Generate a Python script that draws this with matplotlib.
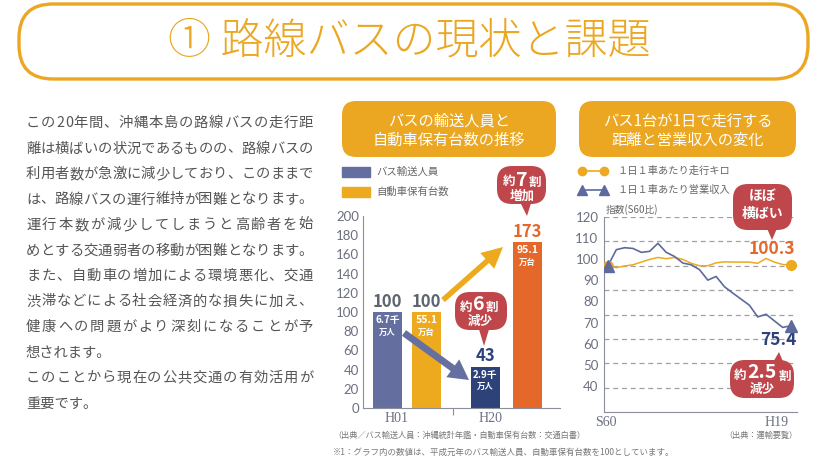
import matplotlib
matplotlib.use('Agg')
import matplotlib.pyplot as plt
from matplotlib.patches import FancyBboxPatch, Polygon, FancyArrow

plt.rcParams['font.family'] = ['Noto Sans CJK JP', 'DejaVu Sans']

W, H = 823, 458

# --- data ---------------------------------------------------------------
BAR_YEARS = ['H01', 'H20']
BUS_INDEX = [100, 43]          # バス輸送人員 (H01 = 100)
CAR_INDEX = [100, 173]         # 自動車保有台数 (H01 = 100)
BUS_ABS = ['6.7', '2.9']       # 千万人
CAR_ABS = ['55.1', '95.1']     # 万台
BAR_YTICKS = [0, 20, 40, 60, 80, 100, 120, 140, 160, 180, 200]

LINE_X_LABELS = ['S60', 'H19']
KM_INDEX = [100.0, 99.2, 99.9, 100.4, 101.5, 102.6, 103.4, 102.9, 103.4, 102.6,
            101.0, 100.0, 100.0, 101.2, 101.6, 101.5, 101.5, 101.5, 101.0, 103.0,
            101.5, 100.5, 100.3]
REV_INDEX = [100.0, 106.6, 107.4, 107.1, 105.5, 105.9, 109.2, 105.5, 103.8, 101.1,
             100.4, 98.4, 94.1, 95.6, 91.4, 88.8, 86.3, 83.8, 79.0, 80.1,
             77.4, 74.7, 75.4]
LINE_YTICKS = [120, 110, 100, 90, 80, 70, 60, 50, 40]
LINE_GRID = [50, 60, 70, 80, 90, 100, 110, 120]

PARAGRAPH = [
    'この20年間、沖縄本島の路線バスの走行距',
    '離は横ばいの状況であるものの、路線バスの',
    '利用者数が急激に減少しており、このままで',
    'は、路線バスの運行維持が困難となります。',
    '運行本数が減少してしまうと高齢者を始',
    'めとする交通弱者の移動が困難となります。',
    'また、自動車の増加による環境悪化、交通',
    '渋滞などによる社会経済的な損失に加え、',
    '健康への問題がより深刻になることが予',
    '想されます。',
    'このことから現在の公共交通の有効活用が',
    '重要です。',
]
PARA_LAST = {9, 11}

ORANGE = '#EBA722'
GRAY = '#666666'
AXGRAY = '#8a8f99'
TICK_FONT = dict(family=['Lato', 'DejaVu Sans'], fontweight='normal')

fig = plt.figure(figsize=(W / 100, H / 100), dpi=100)


def px_axes(left, top, right, bottom):
    return fig.add_axes([left / W, 1 - bottom / H, (right - left) / W, (bottom - top) / H])


# --- bar chart ----------------------------------------------------------
ax1 = px_axes(363, 216, 560, 408)
bus_x = [0.85, 4.22]
car_x = [2.19, 5.66]
ax1.bar(bus_x, BUS_INDEX, width=1.0, color=['#656F9F', '#2E427A'])
ax1.bar(car_x, CAR_INDEX, width=1.0, color=['#EDAA1E', '#E4682A'])
ax1.set_xlim(0, 6.79)
ax1.set_ylim(0, 200)
ax1.set_yticks(BAR_YTICKS)
ax1.set_yticklabels([str(v) for v in BAR_YTICKS], color='#6b7080', fontsize=9.5, **TICK_FONT)
ax1.set_xticks([3.1])
ax1.set_xticklabels([''])
ax1.set_xticks([1.17, 4.38], minor=True)
ax1.set_xticklabels(BAR_YEARS, minor=True, family='Liberation Serif', fontsize=10, color='#6b7080')
ax1.tick_params(axis='x', which='major', length=5, color=AXGRAY)
ax1.tick_params(axis='x', which='minor', length=0, pad=3)
ax1.tick_params(axis='y', length=0, pad=3)
for s in ['top', 'right']:
    ax1.spines[s].set_visible(False)
for s in ['left', 'bottom']:
    ax1.spines[s].set_color(AXGRAY)

top_colors = ['#5d6670', '#2E427A']
for i, x in enumerate(bus_x):
    v = BUS_INDEX[i]
    ax1.annotate(str(v), (x, v), xytext=(0, 1), textcoords='offset points', ha='center',
                 va='bottom', fontsize=12, fontweight='bold', color=top_colors[i])
    ax1.annotate(BUS_ABS[i] + '千', (x, v), xytext=(0, -6), textcoords='offset points',
                 ha='center', va='center', fontsize=7, fontweight='bold', color='white')
    ax1.annotate('万人', (x, v), xytext=(0, -14.5), textcoords='offset points',
                 ha='center', va='center', fontsize=6, fontweight='bold', color='white')
top_colors = ['#5d6670', '#E4682A']
for i, x in enumerate(car_x):
    v = CAR_INDEX[i]
    ax1.annotate(str(v), (x, v), xytext=(0, 1), textcoords='offset points', ha='center',
                 va='bottom', fontsize=12, fontweight='bold', color=top_colors[i])
    ax1.annotate(CAR_ABS[i], (x, v), xytext=(0, -6), textcoords='offset points',
                 ha='center', va='center', fontsize=7.5, fontweight='bold', color='white')
    ax1.annotate('万台', (x, v), xytext=(0, -15), textcoords='offset points',
                 ha='center', va='center', fontsize=6, fontweight='bold', color='white')

# --- line chart ---------------------------------------------------------
ax2 = px_axes(604, 217, 797, 412)
xs = list(range(len(KM_INDEX)))
ax2.plot(xs, KM_INDEX, color='#EDA91F', lw=1.1, zorder=3)
ax2.plot(xs, REV_INDEX, color='#5E6A9E', lw=1.2, zorder=4)
ax2.plot([xs[0], xs[-1]], [KM_INDEX[0], KM_INDEX[-1]], 'o', color='#EDA91F', ms=7, zorder=5)
ax2.plot([xs[0], xs[-1]], [REV_INDEX[0], REV_INDEX[-1]], '^', color='#5E6A9E', ms=8, zorder=6)
for g in LINE_GRID:
    ax2.axhline(g, color='#a0a0a0', lw=0.9, ls=(0, (4, 3)), zorder=1)
ax2.set_xlim(-0.48, 22.72)
ax2.set_ylim(40, 120)
# labels in the original are spaced slightly tighter than the grid
label_pos = [120 - (120 - v) * 0.866 for v in LINE_YTICKS]
ax2.set_yticks(label_pos)
ax2.set_yticklabels([str(v) for v in LINE_YTICKS], color='#6b7080', fontsize=9.5, **TICK_FONT)
ax2.set_xticks([-0.2, 20.3])
ax2.set_xticklabels(LINE_X_LABELS, family='Liberation Serif', fontsize=10, color='#6b7080')
ax2.tick_params(length=0, pad=4)
ax2.tick_params(axis='x', pad=3)
for s in ['top', 'right']:
    ax2.spines[s].set_visible(False)
for s in ['left', 'bottom']:
    ax2.spines[s].set_color(AXGRAY)
ax2.annotate('100.3', (xs[-1], KM_INDEX[-1]), xytext=(-13.5, 11.5), textcoords='offset points',
             ha='center', va='center', fontsize=12.5, fontweight='bold', color='#E4682A')
ax2.annotate('75.4', (xs[-1], REV_INDEX[-1]), xytext=(-9, -10.5), textcoords='offset points',
             ha='center', va='center', fontsize=12.5, fontweight='bold', color='#2E427A')

# --- overlay in pixel coordinates ---------------------------------------
ov = fig.add_axes([0, 0, 1, 1], zorder=10)
ov.set_xlim(0, W)
ov.set_ylim(H, 0)
ov.axis('off')
ov.patch.set_alpha(0)


def txt(x, y, s, size, color, ha='center', va='center', **kw):
    return ov.text(x, y, s, fontsize=size, color=color, ha=ha, va=va, **kw)


def rbox(x0, y0, x1, y1, r, **kw):
    ov.add_patch(FancyBboxPatch((x0, y0), x1 - x0, y1 - y0,
                                boxstyle=f'round,pad=0,rounding_size={r}', **kw))


def bubble(x0, y0, x1, y1, tail, color='#BF464B'):
    rbox(x0, y0, x1, y1, 15, facecolor=color, edgecolor='none')
    ov.add_patch(Polygon(tail, closed=True, facecolor=color, edgecolor='none'))


# title
rbox(19, 4, 808, 79, 34, facecolor='white', edgecolor=ORANGE, lw=2.4)
txt(409, 41, '① 路線バスの現状と課題', 31, ORANGE, fontweight='light')

# paragraph (justified)
renderer = fig.canvas.get_renderer()
for i, line in enumerate(PARAGRAPH):
    y = 123 + i * 25.5
    if i in PARA_LAST:
        txt(26, y, line, 10.3, '#555555', ha='left')
        continue
    parts = [txt(0, y, c, 10.3, '#555555', ha='left') for c in line]
    widths = [p.get_window_extent(renderer).width for p in parts]
    gap = (313 - 26 - sum(widths)) / (len(parts) - 1)
    x = 26
    for p, w in zip(parts, widths):
        p.set_x(x)
        x += w + gap

# chart headers
rbox(342, 101, 556, 157, 14, facecolor=ORANGE, edgecolor='none')
txt(449, 121, 'バスの輸送人員と', 11, 'white')
txt(449, 140, '自動車保有台数の推移', 11, 'white')
rbox(579, 101, 796, 157, 14, facecolor=ORANGE, edgecolor='none')
txt(688, 121, 'バス1台が1日で走行する', 11, 'white')
txt(688, 140, '距離と営業収入の変化', 11, 'white')

# bar legend
ov.add_patch(plt.Rectangle((342, 167), 28, 10, color='#656F9F'))
ov.add_patch(plt.Rectangle((342, 187), 28, 10, color='#EDAA1E'))
txt(376, 172, 'バス輸送人員', 7.5, GRAY, ha='left')
txt(376, 192, '自動車保有台数', 7.5, GRAY, ha='left')

# line legend
ov.plot([582, 604], [171, 171], color='#EDA91F', lw=1.2, marker='o', ms=6)
ov.plot([582, 604], [190, 190], color='#5E6A9E', lw=1.2, marker='^', ms=7)
txt(618, 171, '１日１車あたり走行キロ', 7.4, GRAY, ha='left')
txt(618, 190, '１日１車あたり営業収入', 7.4, GRAY, ha='left')
txt(606, 210, '指数(S60比)', 7, GRAY, ha='left')

# arrows
ov.add_patch(FancyArrow(404, 333, 65, 47, width=7, head_width=22, head_length=20,
                        length_includes_head=True, color='#6670A0', lw=0))
ov.add_patch(FancyArrow(443, 300, 60, -53, width=5.5, head_width=21, head_length=21,
                        length_includes_head=True, color='#EDAA1E', lw=0))

# bubbles
bubble(497, 166, 546, 204, [(519, 200), (532, 200), (527, 216)])
txt(509, 182, '約', 9, 'white', fontweight='bold')
txt(522, 180, '7', 14, 'white', fontweight='bold')
txt(535, 182, '割', 9, 'white', fontweight='bold')
txt(522, 196, '増加', 9, 'white', fontweight='bold')

bubble(455, 292, 507, 330, [(478, 326), (490, 326), (484, 346)])
txt(466, 307, '約', 9, 'white', fontweight='bold')
txt(479, 305, '6', 14, 'white', fontweight='bold')
txt(492, 307, '割', 9, 'white', fontweight='bold')
txt(480, 321, '減少', 9, 'white', fontweight='bold')

bubble(733, 184, 792, 230, [(766, 226), (778, 226), (772, 240)])
txt(763, 196, 'ほぼ', 10, 'white', fontweight='bold')
txt(763, 214, '横ばい', 10, 'white', fontweight='bold')

bubble(730, 360, 794, 398, [(772, 364), (784, 364), (779, 352)])
txt(740, 376, '約', 9, 'white', fontweight='bold')
txt(762, 373, '2.5', 14, 'white', fontweight='bold')
txt(785, 376, '割', 9, 'white', fontweight='bold')
txt(762, 390, '減少', 9, 'white', fontweight='bold')

# footnotes
txt(333, 435, '（出典／バス輸送人員：沖縄統計年鑑・自動車保有台数：交通白書）', 5.9, '#777777', ha='left')
txt(797, 435, '（出典：運輸要覧）', 5.9, '#777777', ha='right')
txt(333, 452, '※1：グラフ内の数値は、平成元年のバス輸送人員、自動車保有台数を100としています。',
    6.1, '#777777', ha='left')

fig.savefig('out.png', dpi=100)
